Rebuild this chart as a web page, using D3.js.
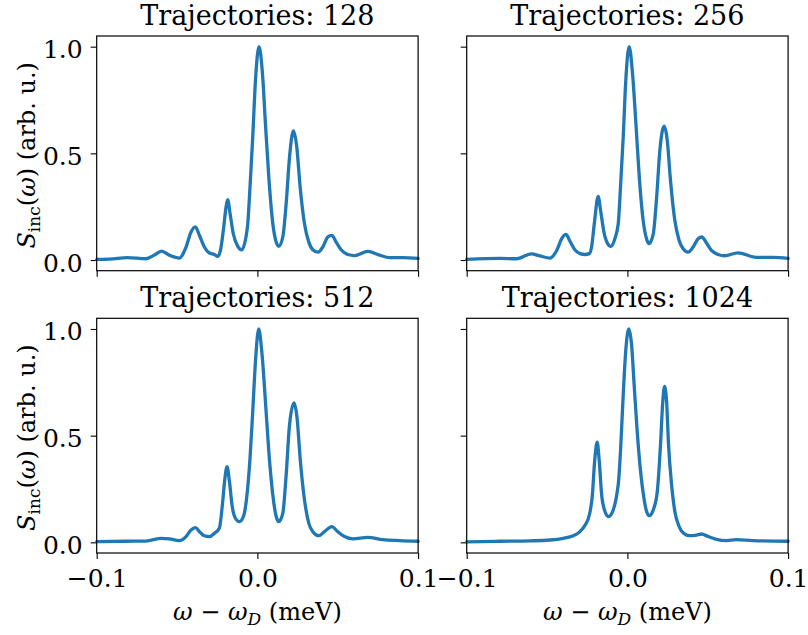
<!DOCTYPE html>
<html>
<head>
<meta charset="utf-8">
<script src="https://cdn.jsdelivr.net/npm/d3@7"></script>
<style>
  html, body { margin: 0; padding: 0; background: #fff; }
  svg text { font-family: "DejaVu Serif", serif; fill: #000; }
</style>
</head>
<body>
<svg id="chart" width="808" height="635"></svg>
<script>
// Number of trajectories averaged in each panel
const trajectories = [128, 256, 512, 1024];

// Detuning ω − ω_D (meV) and normalized incoherent spectrum, 128 trajectories
const omega128 = [-0.1, -0.092, -0.0808, -0.0694, -0.0642, -0.0596, -0.0548, -0.0486, -0.0444, -0.0413,
  -0.0386, -0.0361, -0.033, -0.0299, -0.0268, -0.0247, -0.023, -0.0212, -0.0195, -0.0185,
  -0.017, -0.015, -0.0122, -0.0098, -0.0071, -0.006, -0.0046, -0.0029, -0.0012, 0.001,
  0.0033, 0.005, 0.0071, 0.0096, 0.0117, 0.0133, 0.0158, 0.0179, 0.02, 0.0224,
  0.0245, 0.0266, 0.0293, 0.032, 0.0345, 0.0376, 0.0407, 0.0438, 0.0463, 0.049,
  0.0521, 0.0563, 0.0604, 0.0687, 0.076, 0.0822, 0.0905, 0.1];
const spec128 = [0.003, 0.004, 0.011, 0.006, 0.023, 0.042, 0.023, 0.009, 0.061, 0.131,
  0.155, 0.116, 0.061, 0.033, 0.026, 0.017, 0.045, 0.139, 0.248, 0.283,
  0.217, 0.123, 0.064, 0.048, 0.108, 0.170, 0.342, 0.577, 0.842, 1.0,
  0.858, 0.639, 0.389, 0.170, 0.084, 0.064, 0.108, 0.264, 0.483, 0.605,
  0.530, 0.342, 0.170, 0.084, 0.048, 0.037, 0.061, 0.108, 0.116, 0.084,
  0.048, 0.026, 0.021, 0.041, 0.023, 0.011, 0.011, 0.008];

// 256 trajectories
const omega256 = [-0.1, -0.0794, -0.069, -0.0597, -0.0544, -0.0482, -0.044, -0.0409, -0.0382, -0.0358,
  -0.0327, -0.0295, -0.0264, -0.0237, -0.0223, -0.0206, -0.0182, -0.0167, -0.0146, -0.0125,
  -0.0103, -0.0078, -0.0057, -0.0043, -0.0026, -0.001, 0.0011, 0.0032, 0.0053, 0.0074,
  0.0098, 0.0119, 0.0134, 0.0161, 0.0182, 0.0202, 0.0229, 0.0248, 0.0268, 0.0295,
  0.0322, 0.0347, 0.0378, 0.0409, 0.044, 0.0463, 0.0492, 0.0523, 0.0565, 0.0606,
  0.0688, 0.08, 0.0906, 0.1];
const spec256 = [0.003, 0.008, 0.006, 0.029, 0.019, 0.009, 0.045, 0.100, 0.120, 0.089,
  0.048, 0.030, 0.026, 0.030, 0.061, 0.170, 0.298, 0.233, 0.131, 0.080,
  0.064, 0.100, 0.170, 0.342, 0.577, 0.842, 1.0, 0.873, 0.639, 0.389,
  0.186, 0.100, 0.077, 0.123, 0.295, 0.514, 0.627, 0.561, 0.374, 0.186,
  0.092, 0.053, 0.037, 0.061, 0.100, 0.108, 0.080, 0.045, 0.026, 0.020,
  0.034, 0.0125, 0.0125, 0.008];

// 512 trajectories
const omega512 = [-0.1, -0.082, -0.0694, -0.0596, -0.0548, -0.0486, -0.0444, -0.0413, -0.0386, -0.0357,
  -0.033, -0.0299, -0.0268, -0.0237, -0.0218, -0.0202, -0.0189, -0.0174, -0.0158, -0.0137,
  -0.0112, -0.0087, -0.0067, -0.0046, -0.0029, -0.0012, 0.0008, 0.0029, 0.005, 0.0071,
  0.0096, 0.0117, 0.0133, 0.0158, 0.0179, 0.02, 0.0228, 0.0247, 0.0266, 0.0293,
  0.032, 0.0345, 0.0382, 0.0417, 0.0463, 0.05, 0.0542, 0.0594, 0.0687, 0.078,
  0.0885, 0.1];
const spec512 = [0.003, 0.005, 0.006, 0.019, 0.016, 0.008, 0.027, 0.058, 0.069, 0.047,
  0.031, 0.027, 0.042, 0.066, 0.175, 0.300, 0.355, 0.285, 0.175, 0.113,
  0.097, 0.121, 0.207, 0.394, 0.614, 0.848, 1.0, 0.880, 0.661, 0.426,
  0.221, 0.121, 0.097, 0.136, 0.316, 0.551, 0.653, 0.582, 0.394, 0.199,
  0.089, 0.050, 0.031, 0.050, 0.074, 0.050, 0.027, 0.016, 0.023, 0.0125,
  0.008, 0.005];

// 1024 trajectories
const omega1024 = [-0.1, -0.0794, -0.0606, -0.0482, -0.0399, -0.0337, -0.0295, -0.0264, -0.0237, -0.0218,
  -0.0204, -0.0188, -0.0175, -0.016, -0.014, -0.0117, -0.0088, -0.0063, -0.0055, -0.0042,
  -0.0026, -0.0009, 0.0009, 0.0026, 0.0042, 0.0061, 0.0082, 0.0103, 0.0119, 0.0136,
  0.0161, 0.0186, 0.0206, 0.0219, 0.0231, 0.0244, 0.0256, 0.0275, 0.0295, 0.0322,
  0.0351, 0.0388, 0.043, 0.0461, 0.0503, 0.0554, 0.0617, 0.0678, 0.078, 0.1];
const spec1024 = [0.002, 0.005, 0.007, 0.011, 0.019, 0.031, 0.050, 0.080, 0.128, 0.221,
  0.379, 0.469, 0.379, 0.221, 0.146, 0.121, 0.152, 0.238, 0.285, 0.441,
  0.692, 0.911, 1.0, 0.926, 0.738, 0.520, 0.332, 0.207, 0.146, 0.125,
  0.152, 0.238, 0.457, 0.645, 0.731, 0.660, 0.457, 0.270, 0.146, 0.074,
  0.042, 0.031, 0.034, 0.039, 0.027, 0.014, 0.008, 0.0125, 0.008, 0.005];

// Shared axis ticks
const xTicks = [-0.1, 0.0, 0.1];
const yTicks = [0.0, 0.5, 1.0];

const panels = [
  { n: trajectories[0], xs: omega128,  ys: spec128,  col: 0, row: 0 },
  { n: trajectories[1], xs: omega256,  ys: spec256,  col: 1, row: 0 },
  { n: trajectories[2], xs: omega512,  ys: spec512,  col: 0, row: 1 },
  { n: trajectories[3], xs: omega1024, ys: spec1024, col: 1, row: 1 }
];

const TITLE_FONT = 27;
const TICK_FONT = 25;
const LABEL_FONT = 24;
const colLeft = [96.7, 466.7];
const rowTop = [36, 318.3];
const panelW = 321.4;
const panelH = 234.7;

const svg = d3.select("#chart");
const fmt = d3.format(".1f");

function styleAxis(g) {
  g.select(".domain").remove();
  g.attr("font-size", TICK_FONT).attr("font-family", "DejaVu Serif, serif");
  g.selectAll(".tick line").attr("stroke", "#000").attr("stroke-width", 1.1);
  g.selectAll(".tick text").attr("fill", "#000");
}

panels.forEach(p => {
  const left = colLeft[p.col], top = rowTop[p.row];
  const x = d3.scaleLinear().domain([-0.1, 0.1]).range([left, left + panelW]);
  const y = d3.scaleLinear().domain([-0.05, 1.05]).range([top + panelH, top]);

  const g = svg.append("g").attr("class", "panel");

  // y axis (labels only in the left column)
  const ya = g.append("g")
    .attr("transform", `translate(${left},0)`)
    .call(d3.axisLeft(y).tickValues(yTicks).tickSize(6).tickPadding(8)
      .tickFormat(p.col === 0 ? fmt : () => ""));
  styleAxis(ya);
  ya.selectAll(".tick text").attr("dy", "0.44em");

  // x axis (labels only in the bottom row)
  const xa = g.append("g")
    .attr("transform", `translate(0,${top + panelH})`)
    .call(d3.axisBottom(x).tickValues(xTicks).tickSize(6).tickPadding(10)
      .tickFormat(p.row === 1 ? fmt : () => ""));
  styleAxis(xa);

  // spectrum
  const line = d3.line()
    .x((d, i) => x(p.xs[i]))
    .y(d => y(d))
    .curve(d3.curveMonotoneX);
  g.append("path")
    .datum(p.ys)
    .attr("fill", "none")
    .attr("stroke", "#1f77b4")
    .attr("stroke-width", 3.3)
    .attr("stroke-linejoin", "round")
    .attr("stroke-linecap", "round")
    .attr("d", line);

  // frame
  g.append("rect")
    .attr("x", left).attr("y", top)
    .attr("width", panelW).attr("height", panelH)
    .attr("fill", "none").attr("stroke", "#000").attr("stroke-width", 1.2);

  // title
  g.append("text")
    .attr("x", left + panelW / 2)
    .attr("y", top - 11)
    .attr("text-anchor", "middle")
    .attr("font-size", TITLE_FONT)
    .text(`Trajectories: ${p.n}`);

  // y label in the left column
  if (p.col === 0) {
    const t = g.append("text")
      .attr("transform", `translate(35,${top + panelH / 2 + 2}) rotate(-90)`)
      .attr("text-anchor", "middle")
      .attr("font-size", LABEL_FONT);
    t.append("tspan").attr("font-style", "italic").text("S");
    t.append("tspan").attr("font-size", 17).attr("dy", 5).text("inc");
    t.append("tspan").attr("dy", -5).text("(");
    t.append("tspan").attr("font-style", "italic").text("ω");
    t.append("tspan").text(") (arb. u.)");
  }

  // x label in the bottom row
  if (p.row === 1) {
    const t = g.append("text")
      .attr("x", left + panelW / 2)
      .attr("y", top + panelH + 67)
      .attr("text-anchor", "middle")
      .attr("font-size", LABEL_FONT);
    t.append("tspan").attr("font-style", "italic").text("ω");
    t.append("tspan").text(" − ");
    t.append("tspan").attr("font-style", "italic").text("ω");
    t.append("tspan").attr("font-style", "italic").attr("font-size", 17).attr("dy", 5).text("D");
    t.append("tspan").attr("dy", -5).text(" (meV)");
  }
});
</script>
</body>
</html>
